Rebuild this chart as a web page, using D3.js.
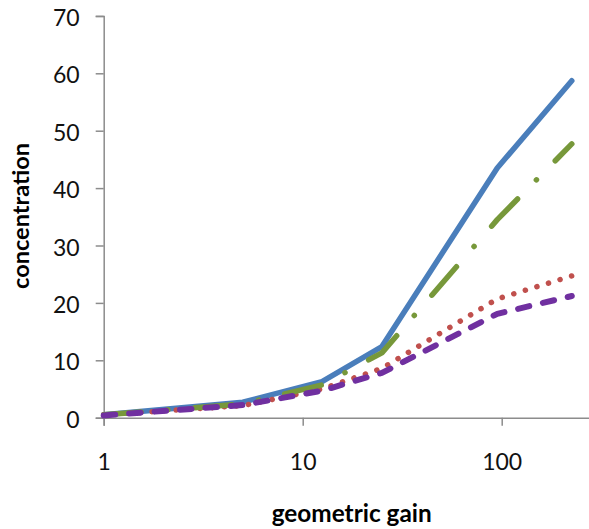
<!DOCTYPE html>
<html>
<head>
<meta charset="utf-8">
<script src="https://cdn.jsdelivr.net/npm/d3@7"></script>
<style>
  html, body { margin: 0; padding: 0; background: #fff; }
  svg { display: block; }
</style>
</head>
<body>
<svg id="chart" width="589" height="529"></svg>
<script>
// ---- data ----
const gains = [1, 5, 12.5, 25, 95, 225];
const seriesBlue   = [0.5, 2.7, 6.3, 12.4, 43.5, 58.7];
const seriesRed    = [0.5, 2.1, 5.0, 8.6, 20.7, 24.7];
const seriesGreen  = [0.5, 2.4, 5.7, 11.3, 34.5, 47.7];
const seriesPurple = [0.4, 2.2, 4.7, 7.8, 18.1, 21.2];
const xTicks = [1, 10, 100];
const yTicks = [0, 10, 20, 30, 40, 50, 60, 70];
const xTitle = "geometric gain";
const yTitle = "concentration";

const svg = d3.select("#chart");
const x = d3.scaleLog().domain([1, 1000]).range([103.7, 103.7 + 3 * 199]);
const y = d3.scaleLinear().domain([0, 70]).range([417.7, 15.9]);
const axisColor = "#8c8c8c";
const tickFont = "Lato, 'Liberation Sans', sans-serif";

// y axis
const gy = svg.append("g").attr("transform", `translate(${x(1)},0)`)
  .call(d3.axisLeft(y).tickValues(yTicks).tickSize(8).tickPadding(16).tickFormat(d3.format("d")));
gy.select(".domain").attr("stroke", axisColor).attr("stroke-width", 1.5);
gy.selectAll(".tick line").attr("stroke", axisColor).attr("stroke-width", 1.5);
gy.selectAll(".tick text").attr("font-family", tickFont).attr("font-size", 23)
  .attr("fill", "#111").attr("dy", "0.42em");

// x axis
const gx = svg.append("g").attr("transform", `translate(0,${y(0)})`)
  .call(d3.axisBottom(x).tickValues(xTicks).tickSize(8).tickPadding(28).tickFormat(d3.format("d")));
gx.select(".domain").attr("stroke", axisColor).attr("stroke-width", 1.5);
gx.selectAll(".tick line").attr("stroke", axisColor).attr("stroke-width", 1.5);
gx.selectAll(".tick text").attr("font-family", tickFont).attr("font-size", 23).attr("fill", "#111");

// series
const line = d3.line().x((d, i) => x(gains[i])).y(d => y(d));
const series = [
  { values: seriesBlue,   color: "#4a7ebb", width: 5.5, dash: null },
  { values: seriesRed,    color: "#c0504d", width: 5.5, dash: "0.1 12" },
  { values: seriesGreen,  color: "#77983a", width: 5.5, dash: "37.6 26.8 0.1 26.8" },
  { values: seriesPurple, color: "#7030a0", width: 6,   dash: "11.5 14" }
];
svg.append("g").selectAll("path").data(series).join("path")
  .attr("d", d => line(d.values))
  .attr("fill", "none")
  .attr("stroke", d => d.color)
  .attr("stroke-width", d => d.width)
  .attr("stroke-linecap", "round")
  .attr("stroke-linejoin", "round")
  .attr("stroke-dasharray", d => d.dash);

// titles
svg.append("text")
  .attr("x", 351.7).attr("y", 522)
  .attr("text-anchor", "middle")
  .attr("font-family", tickFont).attr("font-weight", "bold").attr("font-size", 24)
  .attr("textLength", 160).attr("lengthAdjust", "spacingAndGlyphs")
  .text(xTitle);

svg.append("text")
  .attr("transform", "translate(28.5,216) rotate(-90)")
  .attr("text-anchor", "middle")
  .attr("font-family", tickFont).attr("font-weight", "bold").attr("font-size", 23)
  .attr("textLength", 146).attr("lengthAdjust", "spacingAndGlyphs")
  .text(yTitle);
</script>
</body>
</html>
